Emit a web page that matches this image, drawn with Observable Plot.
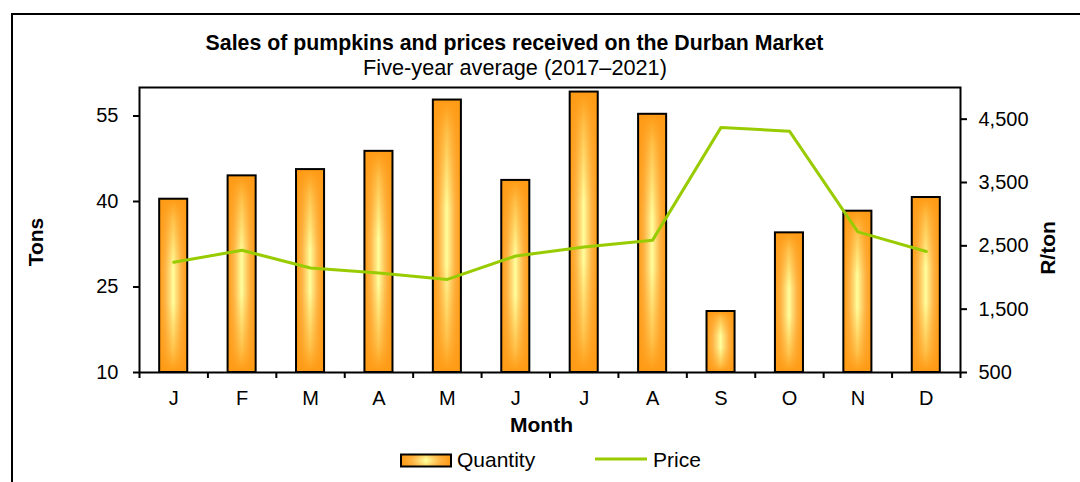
<!DOCTYPE html>
<html><head><meta charset="utf-8">
<script src="https://cdn.jsdelivr.net/npm/d3@7"></script>
<script src="https://cdn.jsdelivr.net/npm/@observablehq/plot@0.6"></script>
<style>
html,body{margin:0;padding:0;background:#fff;overflow:hidden;}
#chart{position:relative;width:1080px;height:482px;overflow:hidden;}
#box{position:absolute;left:11px;top:13px;width:1300px;height:700px;border:2px solid #000;box-sizing:border-box;}
#chart svg{position:absolute;left:0;top:0;}
</style></head><body><div id="chart"><div id="box"></div></div>
<script>
const monthKeys = ["Jan","Feb","Mar","Apr","May","Jun","Jul","Aug","Sep","Oct","Nov","Dec"];
const monthLabels = ["J","F","M","A","M","J","J","A","S","O","N","D"];
const quantity = [40.4, 44.5, 45.6, 48.8, 57.8, 43.7, 59.2, 55.3, 20.7, 34.5, 38.3, 40.7];
const price = [2240, 2430, 2150, 2070, 1970, 2340, 2480, 2590, 4370, 4310, 2720, 2410];
const tonTicks = [10, 25, 40, 55];
const priceTicks = [500, 1500, 2500, 3500, 4500];
const tonDomain = [10, 60];
const priceDomain = [500, 5000];

const toY = d3.scaleLinear().domain(priceDomain).range(tonDomain);
const rows = monthKeys.map((m, i) => ({month: m, quantity: quantity[i], price: price[i], priceY: toY(price[i])}));

const W = 1080, H = 482, mL = 139, mR = 120, mT = 87, mB = 110;
const step = (W - mL - mR) / monthKeys.length;
const FONT = "'Liberation Sans', Arial, sans-serif";
const ORANGE = "#FF9A14", YELLOW = "#FFFF9C", GREEN = "#99CC00";

function defs() {
  const ns = "http://www.w3.org/2000/svg";
  const g = document.createElementNS(ns, "defs");
  g.innerHTML = `<linearGradient id="hGrad" x1="0" x2="1" y1="0" y2="0">
      <stop offset="0" stop-color="${ORANGE}"/>
      <stop offset="0.22" stop-color="#FFB445"/>
      <stop offset="0.38" stop-color="#FFDC76"/>
      <stop offset="0.5" stop-color="${YELLOW}"/>
      <stop offset="0.62" stop-color="#FFDC76"/>
      <stop offset="0.78" stop-color="#FFB445"/>
      <stop offset="1" stop-color="${ORANGE}"/>
    </linearGradient>
    <linearGradient id="vGrad" x1="0" x2="0" y1="0" y2="1">
      <stop offset="0" stop-color="${ORANGE}" stop-opacity="1"/>
      <stop offset="0.12" stop-color="${ORANGE}" stop-opacity="0.6"/>
      <stop offset="0.4" stop-color="${ORANGE}" stop-opacity="0"/>
      <stop offset="0.6" stop-color="${ORANGE}" stop-opacity="0"/>
      <stop offset="0.88" stop-color="${ORANGE}" stop-opacity="0.6"/>
      <stop offset="1" stop-color="${ORANGE}" stop-opacity="1"/>
    </linearGradient>`;
  return g;
}

const label = d => monthLabels[monthKeys.indexOf(d)];

const svg = Plot.plot({
  width: W, height: H,
  marginLeft: mL, marginRight: mR, marginTop: mT, marginBottom: mB,
  style: {fontFamily: FONT, fontSize: "20px", color: "#000", background: "transparent", overflow: "visible"},
  x: {type: "band", domain: monthKeys, paddingInner: 0.59, paddingOuter: 0.295, round: false},
  y: {domain: tonDomain},
  marks: [
    defs,
    Plot.barY(rows, {x: "month", y1: tonDomain[0], y2: "quantity", fill: "url(#hGrad)"}),
    Plot.barY(rows, {x: "month", y1: tonDomain[0], y2: "quantity", fill: "url(#vGrad)", stroke: "#000", strokeWidth: 2}),
    Plot.line(rows, {x: "month", y: "priceY", stroke: GREEN, strokeWidth: 3}),
    Plot.frame({stroke: "#000", strokeWidth: 2}),
    Plot.axisY(tonTicks, {anchor: "left", tickSize: 6, tickPadding: 15, label: null, strokeWidth: 2, fontSize: 20}),
    Plot.axisY(priceTicks.map(toY), {anchor: "right", tickSize: 6, tickPadding: 12, label: null, strokeWidth: 2, fontSize: 20,
      tickFormat: d => d3.format(",")(Math.round(toY.invert(d)))}),
    Plot.axisX({tickSize: 0, tickPadding: 18, label: null, tickFormat: label, fontSize: 20}),
    Plot.ruleX(monthKeys, {x: d => d, y1: tonDomain[0], y2: tonDomain[0], dx: -step / 2, insetBottom: -6, stroke: "#000", strokeWidth: 2}),
    Plot.ruleX(monthKeys.slice(-1), {x: d => d, y1: tonDomain[0], y2: tonDomain[0], dx: step / 2, insetBottom: -6, stroke: "#000", strokeWidth: 2})
  ]
});

const s = d3.select(svg);
function txt(x, y, t, opts = {}) {
  const e = s.append("text").attr("x", x).attr("y", y).text(t)
    .attr("font-family", FONT).attr("font-size", opts.size || 21)
    .attr("font-weight", opts.bold ? "bold" : "normal")
    .attr("text-anchor", opts.anchor || "middle").attr("fill", "#000");
  if (opts.rotate) e.attr("transform", `rotate(${opts.rotate},${x},${y})`);
  return e;
}
txt(514.5, 50, "Sales of pumpkins and prices received on the Durban Market", {bold: true, size: 21.3});
txt(515, 74.5, "Five-year average (2017–2021)", {size: 21.7});
txt(43, 242, "Tons", {bold: true, rotate: -90});
txt(1055, 248, "R/ton", {bold: true, rotate: -90});
txt(541.5, 432, "Month", {bold: true});
// legend
s.append("rect").attr("x", 401).attr("y", 454.5).attr("width", 50).attr("height", 12)
  .attr("fill", "url(#hGrad)");
s.append("rect").attr("x", 401).attr("y", 454.5).attr("width", 50).attr("height", 12)
  .attr("fill", "url(#vGrad)").attr("fill-opacity", 0.5).attr("stroke", "#000").attr("stroke-width", 2);
txt(457, 467, "Quantity", {anchor: "start"});
s.append("line").attr("x1", 595).attr("x2", 647).attr("y1", 459).attr("y2", 459)
  .attr("stroke", GREEN).attr("stroke-width", 3);
txt(653, 467, "Price", {anchor: "start"});

document.getElementById("chart").appendChild(svg);
</script></body></html>
